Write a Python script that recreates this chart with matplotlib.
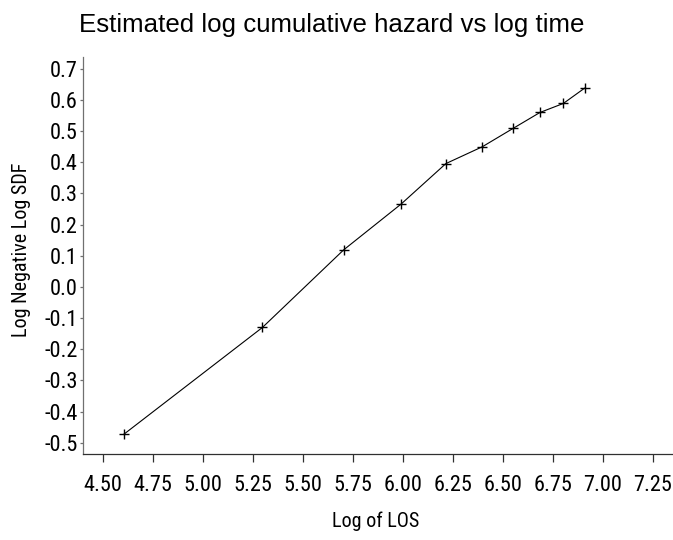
import matplotlib
matplotlib.use("Agg")
import matplotlib.pyplot as plt
from matplotlib import font_manager as fm

# log(LOS) and log(-log S(t))
log_los = [4.605, 5.298, 5.704, 5.991, 6.215, 6.397, 6.551, 6.685, 6.802, 6.908]
log_neg_log_sdf = [-0.473, -0.130, 0.119, 0.266, 0.396, 0.450, 0.509, 0.560, 0.589, 0.638]

x_ticks = [4.50, 4.75, 5.00, 5.25, 5.50, 5.75, 6.00, 6.25, 6.50, 6.75, 7.00, 7.25]
y_ticks = [-0.5, -0.4, -0.3, -0.2, -0.1, 0.0, 0.1, 0.2, 0.3, 0.4, 0.5, 0.6, 0.7]
x_tick_labels = ["%.2f" % v for v in x_ticks]
y_tick_labels = ["%.1f" % v for v in y_ticks]

title = "Estimated log cumulative hazard vs log time"
x_label = "Log of LOS"
y_label = "Log Negative Log SDF"


def pick_narrow_font():
    """Return FontProperties kwargs for a tall, narrow font if one is installed."""
    names = {f.name for f in fm.fontManager.ttflist}
    for fam in ["Liberation Sans Narrow", "Roboto Condensed", "Open Sans Condensed"]:
        if fam in names:
            return {"family": fam}, 16
    for f in fm.fontManager.ttflist:
        if f.name in ("DejaVu Serif", "DejaVu Sans") and f.stretch == "condensed":
            return {"family": f.name, "stretch": "condensed"}, 14
    return {"family": "Liberation Mono"}, 12


font_kw, tick_size = pick_narrow_font()
tick_font = fm.FontProperties(size=tick_size, **font_kw)
label_font = fm.FontProperties(size=tick_size - 1.5, **font_kw)

fig = plt.figure(figsize=(6.73, 5.40), dpi=100)
ax = fig.add_axes([0.1238, 0.1593, 0.8762, 0.7351])

ax.plot(log_los, log_neg_log_sdf, color="black", lw=0.8,
        marker="+", ms=7, mew=1.0)

ax.set_xlim(4.403, 7.35)
ax.set_ylim(-0.536, 0.738)

for side in ["top", "right"]:
    ax.spines[side].set_visible(False)
ax.spines["left"].set_color("#707070")
ax.spines["bottom"].set_color("#303030")
ax.spines["left"].set_linewidth(0.9)
ax.spines["bottom"].set_linewidth(0.9)

ax.set_xticks(x_ticks)
ax.set_xticklabels(x_tick_labels, fontproperties=tick_font)
ax.set_yticks(y_ticks)
ax.set_yticklabels(y_tick_labels, fontproperties=tick_font)
ax.tick_params(axis="x", direction="out", length=6, width=0.9, pad=9, color="#303030")
ax.tick_params(axis="y", direction="out", length=2, width=0.9, pad=2, color="#707070")

ax.set_xlabel(x_label, fontproperties=label_font)
ax.set_ylabel(y_label, fontproperties=label_font)
ax.xaxis.set_label_coords(0.495, -0.146)
ax.yaxis.set_label_coords(-0.089, 0.514)

fig.text(0.493, 0.941, title, ha="center", va="baseline",
         family="Liberation Sans", fontsize=18.6)

fig.savefig("out.png", dpi=100)
